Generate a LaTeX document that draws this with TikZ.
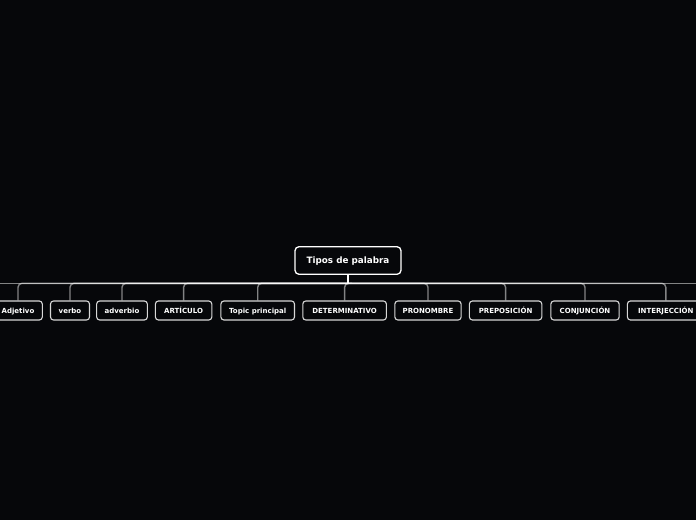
\documentclass[tikz,border=0pt]{standalone}
\usepackage{fontspec}
\setmainfont{DejaVu Sans}
\definecolor{bg}{RGB}{6,7,10}
\definecolor{childborder}{RGB}{215,215,215}
\begin{document}
\begin{tikzpicture}[x=1pt,y=1pt,
  rootbox/.style={draw=white, line width=1.3pt, rounded corners=4pt, fill=bg,
    minimum width=106pt, minimum height=27.6pt, inner sep=0pt,
    text height=6.4pt, text depth=0pt,
    text=white, font=\bfseries\fontsize{8.8}{10}\selectfont},
  childbox/.style={draw=childborder, line width=1.1pt, rounded corners=3pt, fill=bg,
    minimum height=19pt, inner sep=0pt, text=white,
    text height=5.1pt, text depth=0pt,
    font=\bfseries\fontsize{7}{8}\selectfont},
  branch/.style={draw=white, draw opacity=0.5, line width=1.4pt, rounded corners=4pt},
  stem/.style={draw=white, line width=1.6pt}
]
\fill[bg] (0,0) rectangle (696,-520);
\useasboundingbox (0,0) rectangle (696,-520);

\node[rootbox] (root) at (348,-260.5) {Tipos de palabra};
\coordinate (hub) at (348,-283.3);

\node[childbox, minimum width=48.6pt] (c1) at (18,-310.5) {Adjetivo};
\node[childbox, minimum width=39pt]   (c2) at (70,-310.5) {verbo};
\node[childbox, minimum width=50.7pt] (c3) at (122,-310.5) {adverbio};
\node[childbox, minimum width=56.4pt] (c4) at (183.6,-310.5) {ARTÍCULO};
\node[childbox, minimum width=73.6pt] (c5) at (257.7,-310.5) {Topic principal};
\node[childbox, minimum width=83.6pt] (c6) at (344.6,-310.5) {DETERMINATIVO};
\node[childbox, minimum width=66.3pt] (c7) at (428,-310.5) {PRONOMBRE};
\node[childbox, minimum width=72.4pt] (c8) at (505.6,-310.5) {PREPOSICIÓN};
\node[childbox, minimum width=68.3pt] (c9) at (585,-310.5) {CONJUNCIÓN};
\node[childbox, minimum width=76.8pt] (c10) at (665.8,-310.5) {INTERJECCIÓN};

\coordinate (offL) at (-60,-283.3);
\coordinate (offR) at (760,-283.3);

\foreach \c in {c1,c2,c3,c4,c5,c6,c7,c8,c9,c10}{
  \draw[branch] (hub) -| (\c.north);
}
\draw[branch] (hub) -- (offL);
\draw[branch] (hub) -- (offR);
\draw[stem] (root.south) -- (hub);
\end{tikzpicture}
\end{document}
